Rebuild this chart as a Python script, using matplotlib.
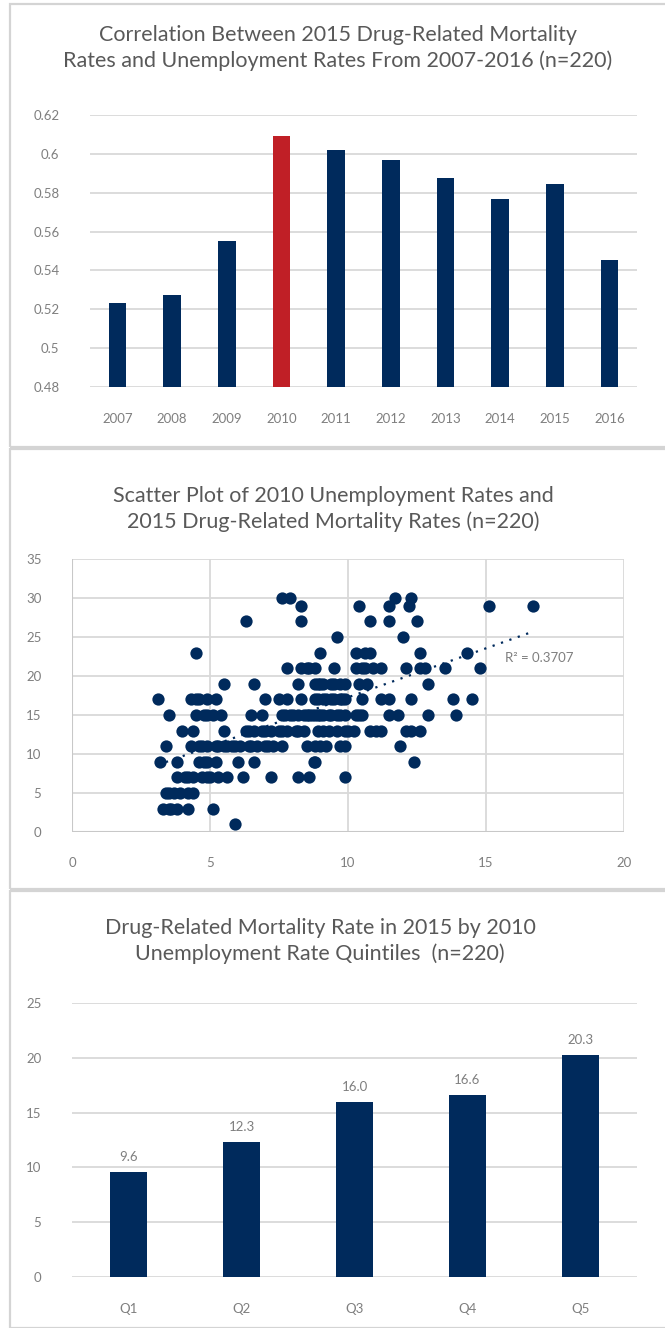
import numpy as np
import matplotlib
matplotlib.use("Agg")
import matplotlib.pyplot as plt
from matplotlib.patches import Rectangle

NAVY = "#002a5c"
RED = "#c01f26"
GRID = "#d9d9d9"
TITLE = "#595959"
TICK = "#7f7f7f"

plt.rcParams["font.family"] = ["Lato", "DejaVu Sans"]

# --- panel 1: correlation by year
years = ["2007", "2008", "2009", "2010", "2011", "2012", "2013", "2014", "2015", "2016"]
corr = [0.523, 0.5275, 0.555, 0.609, 0.602, 0.597, 0.5875, 0.577, 0.5845, 0.5455]
highlight = "2010"

# --- panel 2: scatter, grouped by mortality rate (y) -> unemployment rates (x)
scatter_rows = {
    30: [7.6, 7.9, 11.7, 12.3],
    29: [8.3, 10.4, 11.5, 12.2, 15.1, 16.7],
    27: [6.3, 8.3, 10.8, 11.5, 12.5],
    25: [9.6, 12.0],
    23: [4.5, 9.0, 10.3, 10.6, 10.8, 12.6, 14.3],
    21: [7.8, 8.3, 8.6, 8.8, 9.5, 10.3, 10.6, 10.9, 11.2, 12.1, 12.6, 12.8,
         13.5, 14.8, 8.5, 10.5],
    19: [5.5, 6.6, 8.2, 8.8, 9.1, 9.4, 9.7, 9.9, 10.4, 10.7, 12.9, 9.0, 9.5, 8.9],
    17: [3.1, 4.3, 4.6, 4.9, 5.2, 7.0, 7.5, 7.8, 8.3, 8.8, 9.1, 9.4, 9.7, 9.9,
         10.5, 11.2, 11.5, 12.3, 13.8, 14.5, 8.9, 9.2, 9.5, 4.5, 9.8],
    15: [3.5, 4.5, 4.8, 5.1, 5.4, 6.5, 6.9, 7.6, 7.9, 8.2, 8.5, 8.8, 9.1, 9.4,
         9.7, 9.9, 10.3, 10.5, 11.5, 11.8, 12.9, 13.9, 7.7, 8.0, 8.4, 8.7, 9.0,
         9.3, 9.6, 8.6, 8.9, 4.9, 10.4],
    13: [4.0, 4.4, 5.5, 6.3, 6.6, 6.9, 7.2, 7.5, 7.8, 8.1, 8.4, 8.9, 9.3, 9.6,
         9.9, 10.2, 10.8, 11.0, 11.2, 12.1, 12.3, 12.6, 6.4, 7.0, 7.6, 8.2,
         9.1, 10.0],
    11: [3.4, 4.3, 4.6, 4.9, 5.2, 5.5, 5.8, 6.1, 6.4, 6.7, 7.0, 7.3, 7.6, 8.5,
         8.8, 9.2, 9.7, 9.9, 11.9, 4.7, 5.3, 5.9, 6.5, 7.1, 9.0, 5.6],
    9: [3.2, 3.8, 4.6, 4.9, 5.2, 6.0, 6.6, 8.75, 12.4, 4.8, 8.8],
    7: [3.8, 4.1, 4.4, 4.7, 5.0, 5.3, 5.6, 6.2, 7.2, 8.2, 8.6, 9.9, 4.2, 4.9],
    5: [3.4, 3.7, 3.9, 4.2, 4.4, 3.5],
    3: [3.3, 3.6, 3.8, 4.2, 5.1, 3.5],
    1: [5.9],
}
r2_label = "R\u00b2 = 0.3707"

# --- panel 3: mortality by unemployment quintile
quintiles = ["Q1", "Q2", "Q3", "Q4", "Q5"]
mortality = [9.6, 12.3, 16.0, 16.6, 20.3]

W, H = 665, 1328
fig = plt.figure(figsize=(W / 100, H / 100), dpi=100)
fig.patch.set_facecolor("white")


def px_axes(left, top, right, bottom):
    return fig.add_axes([left / W, 1 - bottom / H, (right - left) / W, (bottom - top) / H])


def style(ax):
    for s in ax.spines.values():
        s.set_visible(False)
    ax.tick_params(length=0, colors=TICK, labelsize=9.5)
    ax.grid(axis="y", color=GRID, linewidth=1.3)
    ax.set_axisbelow(True)


# panel frames
for top, bot in [(4, 447), (449, 889), (891, 1328)]:
    fig.patches.append(Rectangle((10 / W, 1 - bot / H), 660 / W, (bot - top) / H,
                                 transform=fig.transFigure, fill=False,
                                 edgecolor="#d4d4d4", linewidth=1.6))

TITLE_KW = dict(ha="center", va="center", fontsize=15.5, color=TITLE, linespacing=1.3)

# panel 1
ax1 = px_axes(90, 115, 637, 387)
style(ax1)
cols = [RED if y == highlight else NAVY for y in years]
ax1.bar(years, corr, width=0.32, color=cols, zorder=3)
ax1.set_ylim(0.48, 0.62)
ax1.set_yticks(np.arange(0.48, 0.621, 0.02))
ax1.set_yticklabels(["0.48", "0.5", "0.52", "0.54", "0.56", "0.58", "0.6", "0.62"])
ax1.set_xlim(-0.5, len(years) - 0.5)
ax1.tick_params(axis="x", pad=19)
ax1.tick_params(axis="y", pad=22)
fig.text(338 / W, 1 - 48 / H,
         "Correlation Between 2015 Drug-Related Mortality\nRates and Unemployment Rates From 2007-2016 (n=220)",
         **TITLE_KW)

# panel 2
ax2 = px_axes(72, 559, 624, 832)
for s in ax2.spines.values():
    s.set_visible(False)
ax2.tick_params(length=0, colors=TICK, labelsize=9.5)
ax2.grid(True, color=GRID, linewidth=1.3)
ax2.set_axisbelow(True)
xs, ys = [], []
for yv, row in scatter_rows.items():
    xs += row
    ys += [yv] * len(row)
xs, ys = np.array(xs), np.array(ys)
ax2.scatter(xs, ys, s=78, color=NAVY, linewidths=0, zorder=3)
m, b = np.polyfit(xs, ys, 1)
tx = np.array([xs.min(), xs.max()])
ax2.plot(tx, m * tx + b, linestyle=(0, (1, 3)), color=NAVY, linewidth=1.6, zorder=4)
ax2.text(15.7, 22.3, r2_label, fontsize=9.5, color=TICK, va="center", ha="left")
ax2.set_xlim(0, 20)
ax2.set_ylim(0, 35)
ax2.set_xticks(range(0, 21, 5))
ax2.set_yticks(range(0, 36, 5))
ax2.tick_params(axis="x", pad=18)
ax2.tick_params(axis="y", pad=22)
ax2.axvline(0, color="#c8c8c8", linewidth=1.5, zorder=2)
ax2.axhline(0, color="#c8c8c8", linewidth=1.5, zorder=2)
fig.text(333 / W, 1 - 509 / H,
         "Scatter Plot of 2010 Unemployment Rates and\n2015 Drug-Related Mortality Rates (n=220)",
         **TITLE_KW)

# panel 3
ax3 = px_axes(72, 1003, 637, 1277)
style(ax3)
bars = ax3.bar(quintiles, mortality, width=0.32, color=NAVY, zorder=3)
for r, v in zip(bars, mortality):
    ax3.text(r.get_x() + r.get_width() / 2, v + 0.8, f"{v:.1f}", ha="center",
             va="bottom", fontsize=9.5, color=TICK)
ax3.set_ylim(0, 25)
ax3.set_yticks(range(0, 26, 5))
ax3.set_xlim(-0.5, len(quintiles) - 0.5)
ax3.tick_params(axis="x", pad=19)
ax3.tick_params(axis="y", pad=22)
fig.text(320 / W, 1 - 941 / H,
         "Drug-Related Mortality Rate in 2015 by 2010\nUnemployment Rate Quintiles  (n=220)",
         **TITLE_KW)

fig.savefig("out.png", dpi=100, facecolor="white")
